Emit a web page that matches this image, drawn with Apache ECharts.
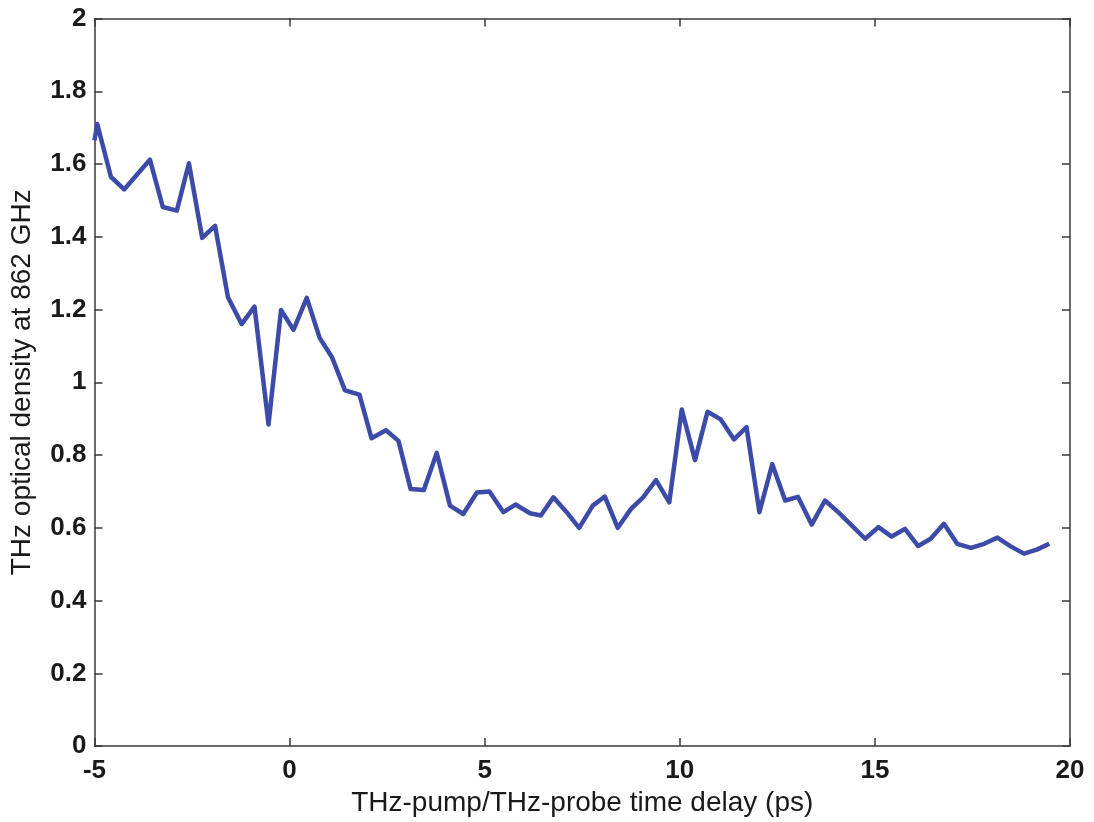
<!DOCTYPE html>
<html>
<head>
<meta charset="utf-8">
<title>THz optical density</title>
<script src="https://cdn.jsdelivr.net/npm/echarts@6/dist/echarts.min.js"></script>
<style>
  html, body { margin: 0; padding: 0; background: #fff; }
  #chart { width: 1094px; height: 822px; }
</style>
</head>
<body>
<div id="chart"></div>
<script>
// pump-probe delay (ps) and THz optical density at 862 GHz
const delay = [
  -5.0, -4.93, -4.58, -4.24, -3.92, -3.58, -3.25, -2.89, -2.58, -2.24,
  -1.91, -1.58, -1.23, -0.90, -0.54, -0.22, 0.10, 0.44, 0.77, 1.09,
  1.42, 1.79, 2.10, 2.47, 2.79, 3.10, 3.44, 3.77, 4.11, 4.45,
  4.80, 5.12, 5.48, 5.79, 6.16, 6.44, 6.76, 7.10, 7.42, 7.77,
  8.08, 8.41, 8.75, 9.06, 9.39, 9.73, 10.05, 10.39, 10.71, 11.05,
  11.39, 11.71, 12.04, 12.37, 12.70, 13.03, 13.38, 13.72, 14.06, 14.41,
  14.75, 15.09, 15.43, 15.77, 16.11, 16.43, 16.77, 17.11, 17.46, 17.80,
  18.14, 18.48, 18.82, 19.15, 19.47
];
const density = [
  1.665, 1.71, 1.565, 1.53, 1.57, 1.612, 1.482, 1.472, 1.602, 1.397,
  1.43, 1.234, 1.16, 1.208, 0.884, 1.199, 1.144, 1.232, 1.122, 1.068,
  0.978, 0.966, 0.846, 0.868, 0.839, 0.707, 0.704, 0.806, 0.661, 0.638,
  0.697, 0.70, 0.643, 0.664, 0.64, 0.634, 0.684, 0.643, 0.60, 0.661,
  0.686, 0.60, 0.652, 0.684, 0.731, 0.67, 0.925, 0.786, 0.919, 0.898,
  0.843, 0.877, 0.643, 0.775, 0.675, 0.685, 0.609, 0.675, 0.643, 0.606,
  0.57, 0.602, 0.576, 0.597, 0.55, 0.57, 0.611, 0.556, 0.545, 0.556,
  0.573, 0.549, 0.529, 0.54, 0.556
];

const xTicks = { min: -5, max: 20, interval: 5 };
const yTicks = { min: 0, max: 2, interval: 0.2 };

const chart = echarts.init(document.getElementById('chart'));

const axisColor = '#3a3a3a';
const labelFont = {
  color: '#1a1a1a',
  fontFamily: 'Liberation Sans, Arial, sans-serif',
  fontSize: 26,
  fontWeight: 'bold',
};

// mirrored axes (top / right) only carry the inward ticks
const mirror = {
  axisLine: { show: true, onZero: false, lineStyle: { color: axisColor, width: 1.5 } },
  axisTick: { show: true, inside: true, length: 8, lineStyle: { color: axisColor, width: 1.5 } },
  axisLabel: { show: false },
  splitLine: { show: false },
};

const option = {
  animation: false,
  backgroundColor: '#fff',
  grid: { left: 94.5, right: 24, top: 18.5, bottom: 72 },
  xAxis: [
    {
      type: 'value',
      ...xTicks,
      position: 'bottom',
      name: 'THz-pump/THz-probe time delay (ps)',
      nameLocation: 'middle',
      nameGap: 36,
      nameTextStyle: { ...labelFont, fontSize: 28, fontWeight: 'normal', verticalAlign: 'top' },
      axisLine: { show: true, onZero: false, lineStyle: { color: axisColor, width: 1.5 } },
      axisTick: { show: true, inside: true, length: 8, lineStyle: { color: axisColor, width: 1.5 } },
      axisLabel: { ...labelFont, margin: 12 },
      splitLine: { show: false },
    },
    { type: 'value', ...xTicks, position: 'top', ...mirror },
  ],
  yAxis: [
    {
      type: 'value',
      ...yTicks,
      position: 'left',
      name: 'THz optical density at 862 GHz',
      nameLocation: 'middle',
      nameGap: 58,
      nameTextStyle: { ...labelFont, fontSize: 28, fontWeight: 'normal' },
      axisLine: { show: true, onZero: false, lineStyle: { color: axisColor, width: 1.5 } },
      axisTick: { show: true, inside: true, length: 8, lineStyle: { color: axisColor, width: 1.5 } },
      axisLabel: { ...labelFont, margin: 8 },
      splitLine: { show: false },
    },
    { type: 'value', ...yTicks, position: 'right', ...mirror },
  ],
  series: [
    {
      type: 'line',
      data: delay.map((d, i) => [d, density[i]]),
      showSymbol: false,
      lineStyle: { color: '#3d4ba8', width: 4.5, join: 'round' },
      clip: true,
    },
  ],
};

chart.setOption(option);
</script>
</body>
</html>
